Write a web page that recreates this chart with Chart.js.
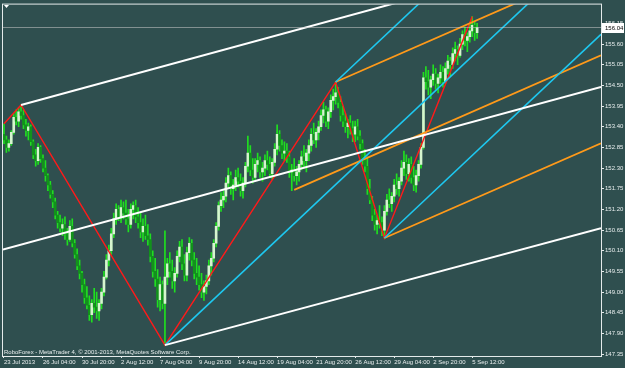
<!DOCTYPE html>
<html lang="en">
<head>
<meta charset="UTF-8">
<title>GBPJPY H4</title>
<style>
  html, body { margin: 0; padding: 0; background: #2f4f4f; }
  #wrap { width: 625px; height: 368px; }
</style>
</head>
<body>
<div id="wrap"><canvas id="chart" width="625" height="368"></canvas></div>
<script src="https://cdn.jsdelivr.net/npm/chart.js"></script>
<script>
// time axis: bar index of each label (H4 bars, 16 bars apart)
const xTickIdx = [0, 16, 32, 48, 64, 80, 96, 112, 128, 144, 160, 176, 192];
const xTickLabels = ['23 Jul 2013', '26 Jul 04:00', '30 Jul 20:00', '2 Aug 12:00', '7 Aug 04:00',
  '9 Aug 20:00', '14 Aug 12:00', '19 Aug 04:00', '21 Aug 20:00', '26 Aug 12:00',
  '29 Aug 04:00', '2 Sep 20:00', '5 Sep 12:00'];
const yTicks = [147.35, 147.90, 148.45, 149.00, 149.55, 150.10, 150.65, 151.20, 151.75,
  152.30, 152.85, 153.40, 153.95, 154.50, 155.05, 155.60, 156.15];

// candles (open = previous close)
const firstOpen = 153.20;
const hi = [
  153.48,153.15,153.05,153.30,153.75,153.85,153.90,153.98,153.85,153.60,
  153.50,153.45,153.05,152.80,152.95,152.90,152.65,152.50,152.15,151.95,
  151.70,151.50,151.15,151.05,150.95,151.00,150.70,150.90,150.95,150.40,
  150.15,149.85,149.55,149.35,149.15,148.90,148.80,149.10,149.00,148.80,
  149.10,149.55,150.00,150.25,150.70,151.10,151.35,151.30,151.45,151.40,
  151.45,151.20,151.35,151.40,151.45,151.25,151.10,150.95,151.05,150.80,
  150.55,150.10,149.90,149.60,149.40,149.30,150.63,149.90,150.05,149.85,
  149.65,150.10,150.35,150.40,150.00,150.20,150.45,150.40,150.05,149.90,
  149.70,149.50,149.30,149.45,149.85,150.05,150.40,150.85,151.40,151.65,
  151.70,152.05,152.30,152.20,152.00,152.25,152.30,152.15,152.05,152.45,
  153.15,152.90,152.55,152.55,152.70,152.60,152.45,152.65,152.75,152.60,
  152.55,152.95,153.45,153.30,153.05,153.00,152.95,152.75,152.40,152.55,
  152.35,152.50,152.75,152.90,152.80,153.05,153.35,153.50,153.35,153.55,
  153.85,154.05,153.95,153.90,154.25,154.40,154.59,154.45,154.20,153.95,
  153.75,153.60,153.70,153.55,153.55,153.60,153.30,153.05,152.80,152.60,
  152.00,151.55,151.20,151.05,151.30,151.00,151.30,151.60,151.75,151.65,
  152.00,152.15,152.05,152.50,152.75,152.65,152.55,152.60,152.35,152.25,
  152.50,152.95,154.85,155.00,154.90,154.75,155.05,154.95,154.80,155.05,
  155.00,155.10,155.30,155.25,155.50,155.65,155.55,155.75,155.95,156.05,
  155.90,156.15,156.33,156.20,156.15
];
const lo = [
  152.95,152.72,152.75,152.90,153.20,153.45,153.40,153.60,153.35,153.15,
  153.05,152.90,152.55,152.35,152.40,152.45,152.20,151.95,151.70,151.50,
  151.25,150.95,150.70,150.60,150.50,150.40,150.25,150.35,150.20,149.90,
  149.60,149.35,149.00,148.70,148.55,148.25,148.20,148.45,148.30,148.25,
  148.55,148.90,149.35,149.70,150.00,150.45,150.80,150.90,150.85,150.95,
  150.80,150.60,150.70,150.95,150.85,150.70,150.45,150.35,150.40,150.25,
  149.80,149.40,149.15,148.60,148.50,148.55,147.59,149.20,149.40,149.10,
  149.00,149.40,149.80,149.60,149.30,149.30,149.85,149.70,149.35,149.20,
  149.05,148.85,148.78,148.95,149.20,149.45,149.80,150.20,150.65,151.15,
  151.25,151.40,151.75,151.60,151.45,151.70,151.80,151.55,151.50,151.80,
  152.20,152.10,151.90,152.00,152.20,152.05,151.95,152.10,152.25,152.05,
  152.00,152.35,152.65,152.75,152.55,152.50,152.45,152.05,151.70,151.95,
  151.85,151.95,152.25,152.30,152.20,152.50,152.75,152.95,152.85,153.05,
  153.30,153.50,153.40,153.35,153.65,153.85,154.00,153.90,153.55,153.40,
  153.25,153.10,153.20,153.00,153.00,153.05,152.80,152.40,152.20,151.60,
  151.35,150.90,150.65,150.55,150.70,150.50,150.44,151.05,151.25,151.15,
  151.40,151.60,151.55,151.85,152.10,152.00,151.95,151.90,151.70,151.66,
  151.95,152.30,152.80,154.40,154.25,154.15,154.50,154.40,154.30,154.55,
  154.45,154.55,154.80,154.75,154.95,155.15,155.05,155.25,155.45,155.55,
  155.40,155.65,155.80,155.70,155.75
];
const cl = [
  153.05,152.85,152.95,153.25,153.65,153.55,153.80,153.70,153.45,153.30,
  153.40,153.00,152.65,152.50,152.85,152.55,152.30,152.10,151.85,151.60,
  151.40,151.05,150.85,150.70,150.80,150.55,150.40,150.75,150.30,150.00,
  149.70,149.50,149.20,148.85,148.65,148.40,148.70,148.60,148.50,148.70,
  149.00,149.40,149.85,150.10,150.55,150.95,151.20,151.00,151.25,151.10,
  150.95,150.80,151.20,151.30,151.00,150.85,150.60,150.75,150.50,150.40,
  149.95,149.55,149.35,148.80,149.20,148.70,149.40,149.75,149.55,149.30,
  149.50,149.95,150.20,149.75,149.45,150.05,150.30,149.85,149.50,149.40,
  149.20,149.00,149.15,149.30,149.70,149.90,150.30,150.75,151.30,151.45,
  151.55,151.90,152.10,151.75,151.85,152.05,151.95,151.70,151.90,152.35,
  152.70,152.25,152.05,152.40,152.50,152.20,152.30,152.50,152.40,152.15,
  152.45,152.80,153.20,152.90,152.70,152.75,152.60,152.20,152.25,152.10,
  152.20,152.40,152.60,152.50,152.70,152.90,153.20,153.05,153.25,153.40,
  153.70,153.85,153.55,153.80,154.10,154.20,154.30,154.05,153.70,153.55,
  153.40,153.50,153.35,153.20,153.40,153.15,152.95,152.55,152.35,151.75,
  151.45,151.05,150.80,150.90,150.85,150.65,151.15,151.45,151.35,151.55,
  151.85,151.75,151.95,152.30,152.45,152.15,152.40,152.05,151.85,152.10,
  152.40,152.85,154.70,154.60,154.45,154.65,154.80,154.55,154.70,154.85,
  154.60,154.95,155.15,155.05,155.35,155.45,155.30,155.60,155.85,155.70,
  155.80,155.95,156.10,155.90,156.04
];

// objects: [barIndex, price] pairs
const zigzag = [[0, 153.48], [7, 153.98], [66, 147.59], [136, 154.59], [156, 150.44], [192, 156.33]];
const whiteLines = [
  [[7, 153.98], [244.8, 158.18]],
  [[-0.4, 150.13], [244.8, 154.46]],
  [[66, 147.59], [244.8, 150.70]]
];
const cyanLines = [
  [[136, 154.59], [244.8, 161.23]],
  [[66, 147.59], [244.8, 158.50]],
  [[156, 150.44], [244.8, 155.86]]
];
const orangeLines = [
  [[136, 154.59], [244.8, 157.68]],
  [[119, 151.72], [244.8, 155.30]],
  [[156, 150.44], [244.8, 152.96]]
];

const xMin = -0.4, xMax = 244.8;
const lastPrice = cl[cl.length - 1];

const wicks = [], bodies = [], bodyColors = [];
for (let i = 0; i < cl.length; i++) {
  const open = i === 0 ? firstOpen : cl[i - 1];
  wicks.push({ x: i, y: [lo[i], hi[i]] });
  bodies.push({ x: i, y: [open, cl[i]] });
  bodyColors.push(cl[i] >= open ? '#d6f5cf' : '#11931a');
}

function lineSet(pts, color, width) {
  return {
    type: 'line',
    data: pts.map(p => ({ x: p[0], y: p[1] })),
    borderColor: color,
    borderWidth: width,
    pointRadius: 0,
    tension: 0,
    order: 0
  };
}

const datasets = [
  { type: 'bar', data: wicks, backgroundColor: '#1fe01f', barThickness: 1, grouped: false, order: 3 },
  { type: 'bar', data: bodies, backgroundColor: bodyColors, barThickness: 2, minBarLength: 1, grouped: false, order: 2 },
  lineSet([[xMin, lastPrice], [xMax, lastPrice]], 'rgba(200,200,200,0.55)', 1)
];
whiteLines.forEach(l => datasets.push(lineSet(l, '#ffffff', 2)));
cyanLines.forEach(l => datasets.push(lineSet(l, '#1ec8f0', 1.6)));
orangeLines.forEach(l => datasets.push(lineSet(l, '#ff9a1a', 1.8)));
datasets.push(lineSet(zigzag, '#ff1a1a', 1.4));

const frame = {
  id: 'frame',
  afterDraw(chart) {
    const { ctx, chartArea: a, scales } = chart;
    ctx.save();
    ctx.strokeStyle = '#e4eaea';
    ctx.lineWidth = 1;
    ctx.strokeRect(a.left - 0.5, a.top - 0.5, a.right - a.left + 1, a.bottom - a.top + 1);
    // menu triangle top-left
    ctx.fillStyle = '#ffffff';
    ctx.beginPath();
    ctx.moveTo(4, 5); ctx.lineTo(9, 5); ctx.lineTo(6.5, 8); ctx.closePath(); ctx.fill();
    // copyright
    ctx.font = '6px "Liberation Sans", Arial, sans-serif';
    ctx.fillStyle = '#e8eeee';
    ctx.textBaseline = 'alphabetic';
    ctx.fillText('RoboForex - MetaTrader 4, \u00a9 2001-2013, MetaQuotes Software Corp.', 4, a.bottom - 2);
    // current price box
    const py = scales.y.getPixelForValue(lastPrice);
    ctx.fillStyle = '#ffffff';
    ctx.fillRect(a.right + 1, Math.round(py) - 5, 22, 10);
    ctx.fillStyle = '#000000';
    ctx.textBaseline = 'middle';
    ctx.fillText(lastPrice.toFixed(2), a.right + 4, Math.round(py) + 0.5);
    ctx.restore();
  }
};

const tickFont = { family: '"Liberation Sans", Arial, sans-serif', size: 6 };

new Chart(document.getElementById('chart'), {
  data: { datasets },
  options: {
    responsive: false,
    devicePixelRatio: 1,
    animation: false,
    layout: { padding: { left: 3, top: 3, right: 0, bottom: 0 } },
    plugins: { legend: { display: false }, tooltip: { enabled: false } },
    scales: {
      x: {
        type: 'linear',
        offset: false,
        min: xMin,
        max: xMax,
        afterBuildTicks: s => { s.ticks = xTickIdx.map(v => ({ value: v })); },
        afterFit: s => { s.height = 12; },
        grid: { display: true, drawOnChartArea: false, offset: false, tickLength: 2, color: '#e4eaea' },
        border: { display: false },
        ticks: {
          autoSkip: false, maxRotation: 0, align: 'start', padding: 1,
          color: '#e8eeee', font: tickFont,
          callback: (v, i) => xTickLabels[i]
        }
      },
      y: {
        type: 'linear',
        position: 'right',
        min: 147.30,
        max: 156.65,
        afterBuildTicks: s => { s.ticks = yTicks.map(v => ({ value: v })); },
        afterFit: s => { s.width = 24; },
        grid: { display: true, drawOnChartArea: false, tickLength: 3, color: '#e4eaea' },
        border: { display: false },
        ticks: {
          padding: 1, color: '#e8eeee', font: tickFont,
          callback: v => v.toFixed(2)
        }
      }
    }
  },
  plugins: [frame]
});
</script>
</body>
</html>
